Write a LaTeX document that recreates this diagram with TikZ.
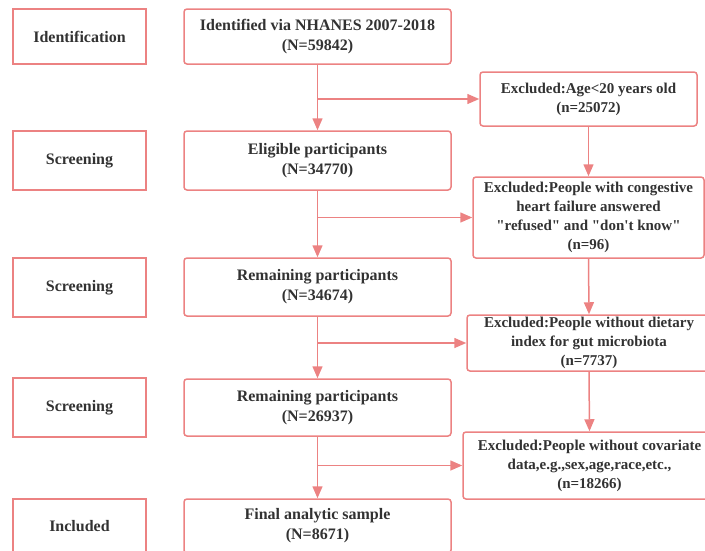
\documentclass[tikz,border=0pt]{standalone}
\usepackage{fontspec}
\newfontfamily\tnr{Liberation Serif}
\usetikzlibrary{arrows.meta}
\definecolor{pk}{RGB}{236,130,130}
\definecolor{txt}{RGB}{50,50,50}
\tikzset{
  lbox/.style={draw=pk, line width=1.5pt, minimum width=133pt, minimum height=59pt, inner sep=0pt, align=center, text=txt, font=\tnr\bfseries\fontsize{16}{20}\selectfont},
  mbox/.style={lbox, rounded corners=3pt, minimum width=267pt},
  rbox/.style={draw=pk, line width=1.5pt, rounded corners=3pt, inner sep=0pt, align=center, text=txt, font=\tnr\bfseries\fontsize{15}{19}\selectfont},
  arr/.style={draw=pk, line width=1.5pt, -{Triangle[length=12pt,width=10pt]}}
}
\begin{document}
\begin{tikzpicture}[x=1pt,y=-1pt]
\useasboundingbox (0,0) rectangle (705,550);
\clip (0,0) rectangle (705,550);
% left column
\node[lbox, minimum height=55pt] (l1) at (79.5,36.5) {Identification};
\node[lbox] (l2) at (79.5,160.5) {Screening};
\node[lbox] (l3) at (79.5,287.5) {Screening};
\node[lbox] (l4) at (79.5,407.5) {Screening};
\node[lbox, minimum height=54pt] (l5) at (79.5,526) {Included};
% main column
\node[mbox, minimum height=55pt] (m1) at (317.5,36.5) {Identified via NHANES 2007-2018\\(N=59842)};
\node[mbox] (m2) at (317.5,160.5) {Eligible participants\\(N=34770)};
\node[mbox, minimum height=58pt] (m3) at (317.5,287) {Remaining participants\\(N=34674)};
\node[mbox, minimum height=57pt] (m4) at (317.5,407.5) {Remaining participants\\(N=26937)};
\node[mbox, minimum height=54pt] (m5) at (317.5,526) {Final analytic sample\\(N=8671)};
% right column
\node[rbox, minimum width=217pt, minimum height=54pt] (r1) at (588.5,99) {Excluded:Age<20 years old\\(n=25072)};
\node[rbox, minimum width=231pt, minimum height=81pt] (r2) at (588.5,217.5) {Excluded:People with congestive\\heart failure answered\\"refused" and "don't know"\\(n=96)};
\node[rbox, minimum width=244pt, minimum height=56pt] (r3) at (589,343) {Excluded:People without dietary\\index for gut microbiota\\(n=7737)};
\node[rbox, minimum width=253pt, minimum height=67pt] (r4) at (589.5,465.5) {Excluded:People without covariate\\data,e.g.,sex,age,race,etc.,\\(n=18266)};
% main vertical arrows
\draw[arr] (m1.south) -- (m2.north);
\draw[arr] (m2.south) -- (m3.north);
\draw[arr] (m3.south) -- (m4.north);
\draw[arr] (m4.south) -- (m5.north);
% branch arrows
\draw[arr] (m1.south |- r1.west) -- (r1.west);
\draw[arr] (m2.south |- r2.west) -- (r2.west);
\draw[arr] (m3.south |- r3.west) -- (r3.west);
\draw[arr] (m4.south |- r4.west) -- (r4.west);
% right vertical arrows
\draw[arr] (r1.south) -- (r2.north);
\draw[arr] (r2.south) -- (r3.north);
\draw[arr] (r3.south) -- (r4.north);
\end{tikzpicture}
\end{document}
